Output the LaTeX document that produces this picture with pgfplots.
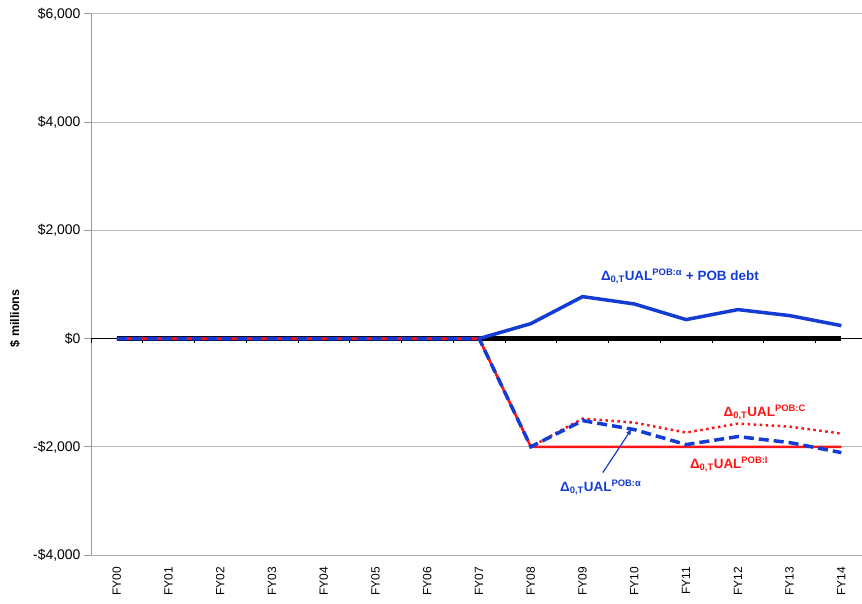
\documentclass[border=0pt]{standalone}
\usepackage{pgfplots}
\pgfplotsset{compat=1.18}
\usepackage{fontspec}
\setmainfont{Liberation Sans}
\begin{document}
\begin{tikzpicture}
\useasboundingbox (-91bp,-49bp) rectangle (771bp,555bp);
\begin{axis}[
  at={(0,0)}, anchor=south west,
  scale only axis, width=776.25bp, height=541bp,
  xmin=-0.5, xmax=14.5, ymin=-4000, ymax=6000,
  axis x line*=bottom, axis y line*=left,
  x axis line style={draw=gray!60, line width=1pt},
  y axis line style={draw=gray!80, line width=1pt},
  xtick={0,...,14},
  xticklabels={FY00,FY01,FY02,FY03,FY04,FY05,FY06,FY07,FY08,FY09,FY10,FY11,FY12,FY13,FY14},
  x tick style={draw=none},
  xticklabel style={rotate=90, anchor=east, font=\fontsize{12}{14}\selectfont, inner sep=1bp},
  xticklabel shift=4bp,
  ytick={-4000,-2000,0,2000,4000,6000},
  yticklabels={{-\$4,000},{-\$2,000},{\$0},{\$2,000},{\$4,000},{\$6,000}},
  yticklabel style={font=\fontsize{14}{16}\selectfont},
  y tick style={draw=gray!80, line width=1pt},
  tick align=outside, major tick length=7bp,
  ymajorgrids, grid style={draw=gray!55, line width=1pt},
  ylabel={\textbf{\$ millions}},
  every axis y label/.style={at={(ticklabel cs:0.5)}, rotate=90, anchor=center, xshift=-34bp, yshift=15bp, font=\fontsize{12.5}{14}\selectfont},
  clip=false,
]
% thin axis line at zero
\addplot[black, line width=1pt] coordinates {(-0.5,0) (14.5,0)};
% tick marks at category boundaries
\addplot[black, line width=1pt, ycomb] coordinates {
(-0.5,-75) (0.5,-75) (1.5,-75) (2.5,-75) (3.5,-75) (4.5,-75) (5.5,-75) (6.5,-75) (7.5,-75) (8.5,-75) (9.5,-75) (10.5,-75) (11.5,-75) (12.5,-75) (13.5,-75) (14.5,-75)};
% thick zero series
\addplot[black, line width=4.5bp] coordinates {
(0,0) (1,0) (2,0) (3,0) (4,0) (5,0) (6,0) (7,0) (8,0) (9,0) (10,0) (11,0) (12,0) (13,0) (14,0)};
% UAL POB:alpha + POB debt
\addplot[color={rgb,255:red,20;green,60;blue,210}, line width=3.5bp] coordinates {
(0,0) (1,0) (2,0) (3,0) (4,0) (5,0) (6,0) (7,0) (8,277) (9,776) (10,640) (11,351) (12,536) (13,425) (14,240)};
% UAL POB:I
\addplot[color={rgb,255:red,255;green,20;blue,20}, line width=2.5bp] coordinates {
(0,0) (1,0) (2,0) (3,0) (4,0) (5,0) (6,0) (7,0) (8,-2000) (9,-2000) (10,-2000) (11,-2000) (12,-2000) (13,-2000) (14,-2000)};
% UAL POB:C
\addplot[color={rgb,255:red,255;green,20;blue,20}, line width=2.5bp, dash pattern=on 2.5bp off 3.5bp] coordinates {
(0,0) (1,0) (2,0) (3,0) (4,0) (5,0) (6,0) (7,0) (8,-2000) (9,-1479) (10,-1553) (11,-1737) (12,-1571) (13,-1627) (14,-1756)};
% UAL POB:alpha
\addplot[color={rgb,255:red,20;green,60;blue,210}, line width=3.5bp, dash pattern=on 10bp off 5bp] coordinates {
(0,0) (1,0) (2,0) (3,0) (4,0) (5,0) (6,0) (7,0) (8,-2000) (9,-1516) (10,-1682) (11,-1959) (12,-1811) (13,-1922) (14,-2107)};
% labels
\node[text={rgb,255:red,20;green,60;blue,210}, font=\fontsize{13.5}{15}\selectfont\bfseries] at (axis cs:10.88,1146) {Δ\textsubscript{0,T}UAL\textsuperscript{POB:α} + POB debt};
\node[text={rgb,255:red,255;green,20;blue,20}, font=\fontsize{13.5}{15}\selectfont\bfseries] at (axis cs:12.52,-1368) {Δ\textsubscript{0,T}UAL\textsuperscript{POB:C}};
\node[text={rgb,255:red,255;green,20;blue,20}, font=\fontsize{13.5}{15}\selectfont\bfseries] at (axis cs:11.83,-2329) {Δ\textsubscript{0,T}UAL\textsuperscript{POB:I}};
\node[text={rgb,255:red,20;green,60;blue,210}, font=\fontsize{13.5}{15}\selectfont\bfseries] at (axis cs:9.35,-2754) {Δ\textsubscript{0,T}UAL\textsuperscript{POB:α}};
\draw[-latex, color={rgb,255:red,20;green,60;blue,210}, line width=1.2bp] (axis cs:9.39,-2477) -- (axis cs:9.95,-1664);
\end{axis}
\end{tikzpicture}
\end{document}
